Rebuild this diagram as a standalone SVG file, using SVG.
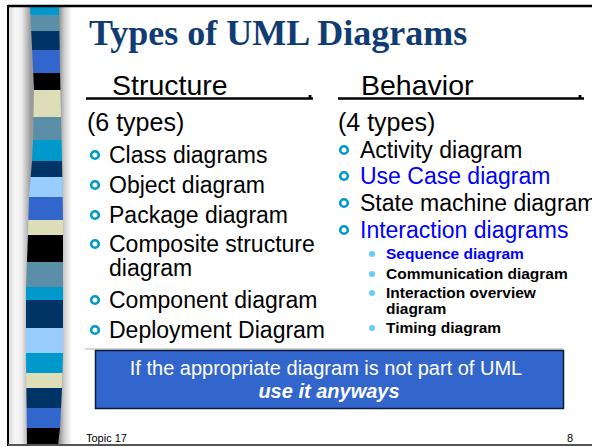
<svg xmlns="http://www.w3.org/2000/svg" width="592" height="447" viewBox="0 0 592 447">
<defs>
<linearGradient id="side" x1="9" y1="0" x2="72" y2="0" gradientUnits="userSpaceOnUse">
<stop offset="0" stop-color="#dcdcdc"/>
<stop offset="0.1" stop-color="#f7f7f7"/>
<stop offset="0.2" stop-color="#ececec"/>
<stop offset="0.34" stop-color="#9c9c9c"/>
<stop offset="0.79" stop-color="#8c8c8c"/>
<stop offset="0.88" stop-color="#d0d0d0"/>
<stop offset="1" stop-color="#ffffff"/>
</linearGradient>
<clipPath id="stripeClip">
<path d="M30,5 L34,90 L33,140 L32,161 L29,197 L28,235 L26,287 L26,353 L27,445 L58,445 L60,428 L62,388 L63,353 L63,262 L63,220 L62,161 L61,117 L60,73 L59,5 Z"/>
</clipPath>
</defs>
<style>
.sans{font-family:"Liberation Sans",Arial,sans-serif;}
.body{font-size:23px;fill:#000;}
.blue{fill:#0000ff;}
.sub{font-size:15.5px;font-weight:bold;}
.ring{fill:none;stroke:#0099cc;stroke-width:2.6;}
.dot{fill:#66ccff;}
</style>
<rect x="0" y="0" width="592" height="447" fill="#ffffff"/>
<g id="sidebar">
<rect x="9" y="7" width="63" height="437" fill="url(#side)"/>
<g clip-path="url(#stripeClip)">
<rect x="20" y="5" width="50" height="10" fill="#0099cc"/>
<rect x="20" y="15" width="50" height="16" fill="#5b8fa8"/>
<rect x="20" y="31" width="50" height="19" fill="#003366"/>
<rect x="20" y="50" width="50" height="23" fill="#3366cc"/>
<rect x="20" y="73" width="50" height="17" fill="#000000"/>
<rect x="20" y="90" width="50" height="27" fill="#ddddb8"/>
<rect x="20" y="117" width="50" height="23" fill="#5b8fa8"/>
<rect x="20" y="140" width="50" height="21" fill="#0099cc"/>
<rect x="20" y="161" width="50" height="16" fill="#003366"/>
<rect x="20" y="177" width="50" height="20" fill="#99ccff"/>
<rect x="20" y="197" width="50" height="23" fill="#3366cc"/>
<rect x="20" y="220" width="50" height="15" fill="#ddddb8"/>
<rect x="20" y="235" width="50" height="27" fill="#000000"/>
<rect x="20" y="262" width="50" height="25" fill="#5b8fa8"/>
<rect x="20" y="287" width="50" height="13" fill="#0099cc"/>
<rect x="20" y="300" width="50" height="28" fill="#003366"/>
<rect x="20" y="328" width="50" height="25" fill="#99ccff"/>
<rect x="20" y="353" width="50" height="20" fill="#0099cc"/>
<rect x="20" y="373" width="50" height="15" fill="#ddddb8"/>
<rect x="20" y="388" width="50" height="20" fill="#003366"/>
<rect x="20" y="408" width="50" height="20" fill="#3366cc"/>
<rect x="20" y="428" width="50" height="17" fill="#000000"/>
</g>
</g>
<g id="frame">
<line x1="8" y1="6" x2="592" y2="6" stroke="#000" stroke-width="2.5"/>
<line x1="8" y1="5" x2="8" y2="446" stroke="#000" stroke-width="2"/>
<line x1="8" y1="445" x2="592" y2="445" stroke="#555" stroke-width="2"/>
</g>
<g id="title">
<text x="89" y="45" font-family="'Liberation Serif','Times New Roman',serif" font-size="36" font-weight="bold" fill="#0f3c72">Types of UML Diagrams</text>
</g>
<g id="structure-heading" class="sans">
<text x="112" y="95" font-size="28.5" fill="#000">Structure</text>
<text x="306" y="98" font-size="28.5" fill="#000">.</text>
<line x1="86" y1="98.5" x2="313" y2="98.5" stroke="#000" stroke-width="2.5"/>
</g>
<g id="behavior-heading" class="sans">
<text x="361" y="95" font-size="28.5" fill="#000">Behavior</text>
<text x="576" y="98" font-size="28.5" fill="#000">.</text>
<line x1="338" y1="98.5" x2="584" y2="98.5" stroke="#000" stroke-width="2.5"/>
</g>
<g id="structure-list" class="sans body">
<text x="87" y="131" font-size="25">(6 types)</text>
<circle class="ring" cx="95" cy="155" r="3.8"/>
<text x="109" y="163">Class diagrams</text>
<circle class="ring" cx="95" cy="185" r="3.8"/>
<text x="109" y="193">Object diagram</text>
<circle class="ring" cx="95" cy="215" r="3.8"/>
<text x="109" y="223">Package diagram</text>
<circle class="ring" cx="95" cy="244" r="3.8"/>
<text x="109" y="252">Composite structure</text>
<text x="109" y="276">diagram</text>
<circle class="ring" cx="95" cy="300" r="3.8"/>
<text x="109" y="308">Component diagram</text>
<circle class="ring" cx="95" cy="330" r="3.8"/>
<text x="109" y="338">Deployment Diagram</text>
</g>
<g id="behavior-list" class="sans body">
<text x="338" y="131" font-size="25">(4 types)</text>
<circle class="ring" cx="344" cy="150" r="3.8"/>
<text x="360" y="158">Activity diagram</text>
<circle class="ring" cx="344" cy="176" r="3.8"/>
<text x="360" y="184" class="blue">Use Case diagram</text>
<circle class="ring" cx="344" cy="203" r="3.8"/>
<text x="360" y="211">State machine diagram</text>
<circle class="ring" cx="344" cy="230" r="3.8"/>
<text x="360" y="238" class="blue">Interaction diagrams</text>
</g>
<g id="interaction-sublist" class="sans sub">
<circle class="dot" cx="372" cy="254" r="3"/>
<text x="386" y="259" class="blue">Sequence diagram</text>
<circle class="dot" cx="372" cy="274" r="3"/>
<text x="386" y="279">Communication diagram</text>
<circle class="dot" cx="372" cy="293" r="3"/>
<text x="386" y="298">Interaction overview</text>
<text x="386" y="314">diagram</text>
<circle class="dot" cx="372" cy="328" r="3"/>
<text x="386" y="333">Timing diagram</text>
</g>
<g id="note-box">
<line x1="85" y1="349" x2="563" y2="349" stroke="#b0b0b0" stroke-width="1.2"/>
<rect x="95.5" y="350.5" width="468" height="58" fill="#3366cc" stroke="#0a1a3a" stroke-width="1.5"/>
<text x="326" y="375" text-anchor="middle" class="sans" font-size="20" fill="#ffffff">If the appropriate diagram is not part of UML</text>
<text x="329" y="398" text-anchor="middle" class="sans" font-size="20" font-weight="bold" font-style="italic" fill="#ffffff">use it anyways</text>
</g>
<g id="footer" class="sans">
<text x="86" y="442" font-size="11" fill="#000">Topic 17</text>
<text x="567" y="442" font-size="11" fill="#000">8</text>
</g>
</svg>
